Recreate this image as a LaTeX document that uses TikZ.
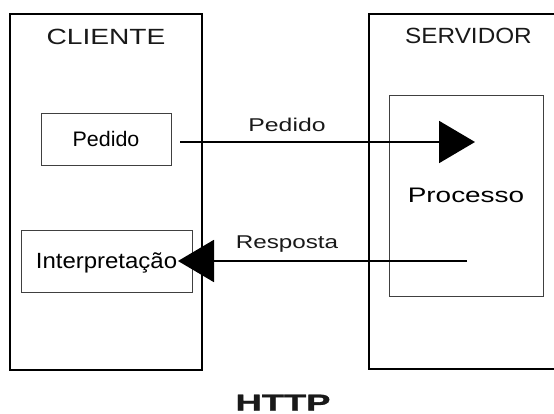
\documentclass[tikz,border=0pt]{standalone}
\usepackage{fontspec}
\setmainfont{Liberation Sans}
\newfontfamily\heavyfont[FakeBold=1.2]{Liberation Sans Bold}
\usetikzlibrary{arrows.meta}
\newcommand{\stx}[3]{{\fontsize{#1}{#1}\selectfont\scalebox{#2}[1]{#3}}}
\begin{document}
\begin{tikzpicture}[x=1pt,y=-1pt,
  outerbox/.style={draw=black, line width=1.8pt, rectangle, inner sep=0pt},
  innerbox/.style={draw=black!75, line width=0.9pt, rectangle, inner sep=0pt, text height=15pt, text depth=0pt},
  lbl/.style={inner sep=0pt, anchor=base, text=black!90},
  msg/.style={line width=2pt, -{Triangle[length=36pt,width=42pt]}}
]
\clip (0,0) rectangle (554,414);
\fill[white] (0,0) rectangle (554,414);
% outer boxes
\node[outerbox, minimum width=192pt, minimum height=356pt] (cli) at (106,192) {};
\node[outerbox, minimum width=189pt, minimum height=355pt] (srv) at (463.5,191.5) {};
\node[lbl] (clit) at (106,45) {\stx{22}{1.28}{CLIENTE}};
\node[lbl] (srvt) at (468.5,44) {\stx{22}{1.105}{SERVIDOR}};
% inner boxes
\node[innerbox, minimum width=130pt, minimum height=52pt] (ped) at (106,139.5) {\stx{21}{1.02}{Pedido}};
\node[innerbox, minimum width=171pt, minimum height=62pt] (int) at (106.5,261) {\stx{22}{1.09}{Interpretação}};
\node[innerbox, minimum width=154pt, minimum height=201pt] (proc) at (466,195.5) {\stx{21}{1.33}{Processo}};
% connectors
\coordinate (pedout) at (180,142);
\coordinate (pedin) at (475,142);
\coordinate (resout) at (467,261);
\coordinate (resin) at (178,261);
\draw[msg] (pedout) -- (pedin);
\draw[msg] (resout) -- (resin);
\node[lbl] (pedl) at (287,132) {\stx{18.5}{1.34}{Pedido}};
\node[lbl] (resl) at (287,248) {\stx{18.5}{1.31}{Resposta}};
% title
\node[lbl] (title) at (283,410.5) {{\heavyfont\stx{23}{1.58}{HTTP}}};
\end{tikzpicture}
\end{document}
